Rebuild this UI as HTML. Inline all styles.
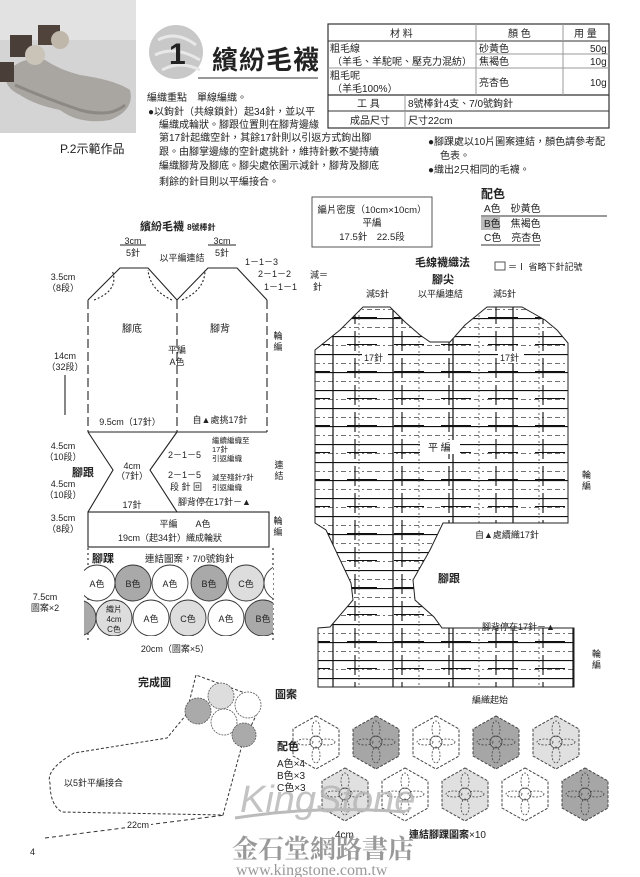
<!DOCTYPE html>
<html><head><meta charset="utf-8"><style>
html,body{margin:0;padding:0;background:#fff}
svg{display:block}
text{font-family:"Liberation Sans","Noto Sans CJK TC",sans-serif;fill:#222}
</style></head><body>
<svg width="640" height="877" viewBox="0 0 640 877" xmlns="http://www.w3.org/2000/svg">
<defs>
<pattern id="grid" width="60" height="18" patternUnits="userSpaceOnUse" x="315" y="300">
<line x1="0" y1="0.5" x2="60" y2="0.5" stroke="#111" stroke-width="1.2"/>
<line x1="0" y1="9.5" x2="60" y2="9.5" stroke="#444" stroke-width="0.8" stroke-dasharray="5 3 2 3"/>
<line x1="18" y1="0" x2="18" y2="18" stroke="#111" stroke-width="1.2"/>
<line x1="44" y1="0" x2="44" y2="18" stroke="#444" stroke-width="0.8" stroke-dasharray="2 3"/>
</pattern>
<pattern id="grid2" width="47" height="27" patternUnits="userSpaceOnUse" x="300" y="304">
<line x1="8" y1="0" x2="8" y2="20" stroke="#111" stroke-width="1.1"/>
<line x1="0" y1="13.5" x2="30" y2="13.5" stroke="#111" stroke-width="1"/>
</pattern>
<clipPath id="band"><rect x="84" y="564" width="189" height="72"/></clipPath>
</defs>

<!-- photo -->
<rect x="0" y="0" width="136" height="133" fill="#d4d4d4"/>
<rect x="0" y="0" width="136" height="40" fill="#e2e2e2"/>
<path d="M5 75 Q20 55 45 60 Q60 70 80 75 Q115 80 130 90 Q135 110 110 120 Q80 125 60 110 Q35 105 20 95 Q5 88 5 75Z" fill="#a9a6a2"/>
<path d="M15 85 Q50 100 80 110 Q110 118 125 105" fill="none" stroke="#8c8985" stroke-width="3"/>
<rect x="10" y="35" width="22" height="22" fill="#4a3f38"/>
<rect x="38" y="25" width="22" height="20" fill="#4f433b"/>
<rect x="0" y="62" width="14" height="20" fill="#4a3f38"/>
<circle cx="35" cy="55" r="10" fill="#c9c3b8"/><circle cx="60" cy="40" r="9" fill="#beb7aa"/>
<text x="60" y="153" font-size="12">P.2示範作品</text>

<!-- title -->
<circle cx="176" cy="52" r="27" fill="#c8c8c8"/>
<path d="M158 40 Q176 30 196 45 M155 55 Q175 45 200 60 M162 70 Q180 60 200 70" stroke="#e8e8e8" stroke-width="3" fill="none"/>
<text x="169" y="64" font-size="30" font-weight="bold" fill="#111">1</text>
<text x="212" y="69" font-size="26" font-weight="bold" fill="#222" letter-spacing="1">繽紛毛襪</text>
<line x1="198" y1="78" x2="318" y2="78" stroke="#999" stroke-width="2"/>

<!-- table -->
<g stroke="#333" fill="none">
<rect x="328" y="24" width="281" height="104" stroke-width="1.2"/>
<line x1="328" y1="41" x2="609" y2="41"/>
<line x1="476" y1="54" x2="609" y2="54" stroke="#999"/>
<line x1="328" y1="68" x2="609" y2="68" stroke="#999"/>
<line x1="328" y1="95" x2="609" y2="95" stroke-width="1.2"/>
<line x1="328" y1="111" x2="609" y2="111"/>
<line x1="476" y1="24" x2="476" y2="95" stroke="#999"/>
<line x1="563" y1="24" x2="563" y2="95" stroke="#999"/>
<line x1="405" y1="95" x2="405" y2="128" stroke="#999"/>
</g>
<g font-size="10">
<text x="390" y="37">材 料</text><text x="508" y="37">顏 色</text><text x="574" y="37">用 量</text>
<text x="330" y="52">粗毛線</text><text x="332" y="65">（羊毛、羊駝呢、壓克力混紡）</text>
<text x="479" y="52">砂黃色</text><text x="590" y="52">50g</text>
<text x="479" y="65">焦褐色</text><text x="590" y="65">10g</text>
<text x="330" y="79">粗毛呢</text><text x="332" y="92">（羊毛100%）</text>
<text x="479" y="86">亮杏色</text><text x="590" y="86">10g</text>
<text x="357" y="107">工 具</text><text x="408" y="107">8號棒針4支、7/0號鉤針</text>
<text x="350" y="124">成品尺寸</text><text x="408" y="124">尺寸22cm</text>
</g>

<!-- instructions -->
<g font-size="10">
<text x="147" y="101">編織重點　單線編織。</text>
<text x="148" y="115">●以鉤針（共線鎖針）起34針，並以平</text>
<text x="159" y="128">編織成輪狀。腳跟位置則在腳背邊緣</text>
<text x="159" y="141">第17針起織空針，其餘17針則以引返方式鉤出腳</text>
<text x="159" y="155">跟。由腳掌邊緣的空針處挑針，維持針數不變持續</text>
<text x="159" y="169">編織腳背及腳底。腳尖處依圖示減針，腳背及腳底</text>
<text x="159" y="185">剩餘的針目則以平編接合。</text>
<text x="428" y="145">●腳踝處以10片圖案連結，顏色請參考配</text>
<text x="440" y="159">色表。</text>
<text x="428" y="173">●織出2只相同的毛襪。</text>
</g>

<!-- gauge -->
<rect x="312" y="197" width="120" height="50" fill="none" stroke="#555"/>
<g font-size="9.5" text-anchor="middle"><text x="372" y="213">編片密度（10cm×10cm）</text><text x="372" y="226">平編</text><text x="372" y="240">17.5針　22.5段</text></g>

<!-- color table -->
<text x="481" y="198" font-size="12" font-weight="bold">配色</text>
<line x1="481" y1="216" x2="607" y2="216" stroke="#333"/>
<rect x="481" y="217" width="19" height="13" fill="#bbb"/>
<line x1="481" y1="245" x2="540" y2="245" stroke="#333"/>
<g font-size="10"><text x="484" y="212">A色　砂黃色</text><text x="484" y="227">B色　焦褐色</text><text x="484" y="241">C色　亮杏色</text></g>

<!-- LEFT DIAGRAM -->
<text x="140" y="230" font-size="11" font-weight="bold">繽紛毛襪 <tspan font-size="8">8號棒針</tspan></text>
<g font-size="9" text-anchor="middle">
<text x="133" y="244">3cm</text><text x="133" y="256">5針</text>
<text x="222" y="244">3cm</text><text x="222" y="256">5針</text>
<text x="182" y="261">以平編連結</text>
<text x="63" y="280">3.5cm</text><text x="63" y="291">（8段）</text>
<text x="65" y="359">14cm</text><text x="65" y="370">（32段）</text>
<text x="63" y="449">4.5cm</text><text x="63" y="460">（10段）</text>
<text x="63" y="487">4.5cm</text><text x="63" y="498">（10段）</text>
<text x="63" y="521">3.5cm</text><text x="63" y="532">（8段）</text>
<text x="132" y="332" font-size="10">腳底</text><text x="220" y="332" font-size="10">腳背</text>
<text x="177" y="353">平編</text><text x="177" y="365">A色</text>
<text x="278" y="339">輪</text><text x="278" y="350">編</text>
<text x="130" y="425">9.5cm（17針）</text>
<text x="220" y="423">自▲處挑17針</text>
<text x="132" y="469">4cm</text><text x="132" y="479">（7針）</text>
<text x="279" y="468">連</text><text x="279" y="479">結</text>
<text x="132" y="508">17針</text>
<text x="185" y="527">平編　　A色</text>
<text x="170" y="541">19cm（起34針）織成輪狀</text>
<text x="278" y="524">輪</text><text x="278" y="535">編</text>
<text x="45" y="600">7.5cm</text><text x="45" y="611">圖案×2</text>
<text x="175" y="652">20cm（圖案×5）</text>
</g>
<text x="72" y="476" font-size="11" font-weight="bold">腳跟</text>
<g font-size="9">
<text x="245" y="265">1－1－3</text><text x="258" y="277">2－1－2</text><text x="264" y="290">1－1－1</text>
<text x="310" y="278">減＝</text><text x="313" y="290">針</text>
<text x="168" y="458">2－1－5</text><text x="168" y="478">2－1－5</text><text x="170" y="490">段 針 回</text>
<text x="212" y="443" font-size="7.5">繼續編織至</text><text x="212" y="452" font-size="7.5">17針</text><text x="212" y="461" font-size="7.5">引返編織</text>
<text x="212" y="480" font-size="7.5">減至殘針7針</text><text x="212" y="490" font-size="7.5">引返編織</text>
<text x="178" y="505">腳背停在17針－▲</text>
</g>
<g stroke="#222" fill="none" stroke-width="1.1">
<path d="M88 300 L120 268 L148 268 L177 300 L208 268 L237 268 L267 300" />
<path d="M88 300 V432 M177 300 V432 M267 300 V432" stroke-dasharray="9 4"/>
<line x1="88" y1="432" x2="267" y2="432"/>
<path d="M88 432 L113 470 L88 512 M177 432 L150 470 L177 512"/>
<rect x="88" y="512" width="181" height="35"/>
<line x1="120" y1="245" x2="146" y2="245"/><line x1="208" y1="245" x2="236" y2="245"/>
<path d="M94 300 Q120 290 112 270 M172 300 Q150 290 148 270 M182 300 Q205 290 205 270" stroke-dasharray="2 2"/>
<path d="M88 548 V640 M273 548 V640" stroke-dasharray="2 3"/>
<line x1="65" y1="415" x2="65" y2="375"/>
</g>
<text x="92" y="562" font-size="11" font-weight="bold">腳踝</text>
<text x="145" y="562" font-size="9.5">連結圖案，7/0號鉤針</text>
<g clip-path="url(#band)" stroke="#333" stroke-width="0.9">
<ellipse cx="97" cy="583" rx="18" ry="18" fill="#fff"/>
<ellipse cx="133" cy="583" rx="18" ry="18" fill="#a9a9a9"/>
<ellipse cx="170" cy="583" rx="18" ry="18" fill="#fff"/>
<ellipse cx="209" cy="583" rx="18" ry="18" fill="#a9a9a9"/>
<ellipse cx="246" cy="583" rx="18" ry="18" fill="#ddd"/>
<ellipse cx="282" cy="583" rx="18" ry="18" fill="#fff"/>
<ellipse cx="78" cy="618" rx="18" ry="18" fill="#a9a9a9"/>
<ellipse cx="114" cy="618" rx="18" ry="18" fill="#ddd"/>
<ellipse cx="151" cy="618" rx="18" ry="18" fill="#fff"/>
<ellipse cx="188" cy="618" rx="18" ry="18" fill="#ddd"/>
<ellipse cx="226" cy="618" rx="18" ry="18" fill="#fff"/>
<ellipse cx="263" cy="618" rx="18" ry="18" fill="#a9a9a9"/>
</g>
<g font-size="9" text-anchor="middle">
<text x="97" y="587">A色</text><text x="133" y="587">B色</text><text x="170" y="587">A色</text><text x="209" y="587">B色</text><text x="246" y="587">C色</text>
<text x="114" y="612" font-size="8">織片</text><text x="114" y="622" font-size="8">4cm</text><text x="114" y="632" font-size="8">C色</text>
<text x="151" y="622">A色</text><text x="188" y="622">C色</text><text x="226" y="622">A色</text><text x="263" y="622">B色</text>
</g>

<!-- RIGHT CHART -->
<text x="415" y="266" font-size="11" font-weight="bold">毛線襪織法</text>
<rect x="495" y="262" width="10" height="8" fill="none" stroke="#555"/>
<text x="508" y="270" font-size="9">＝Ⅰ 省略下針記號</text>
<text x="432" y="283" font-size="11" font-weight="bold">腳尖</text>
<g font-size="9"><text x="366" y="297">減5針</text><text x="418" y="297">以平編連結</text><text x="493" y="297">減5針</text></g>
<path d="M315 350 L340 330 L363 307 L390 307 L405 322 L420 335 L430 342 L450 342 L465 325 L487 307 L522 307 L545 320 L557 330 L568 343 L568 523 L443 523 L430 550 L413 580 L415 600 L434 617 L442 628 L574 628 L574 687 L318 687 L318 628 L330 627 L353 600 L351 583 L326 530 L315 523 Z" fill="url(#grid)" stroke="#222" stroke-width="1"/>
<path d="M315 350 L340 330 L363 307 L390 307 L405 322 L420 335 L430 342 L450 342 L465 325 L487 307 L522 307 L545 320 L557 330 L568 343 L568 523 L443 523 L430 550 L413 580 L415 600 L434 617 L442 628 L574 628 L574 687 L318 687 L318 628 L330 627 L353 600 L351 583 L326 530 L315 523 Z" fill="url(#grid2)"/>
<rect x="362" y="351" width="26" height="12" fill="#fff"/><text x="364" y="361" font-size="9">17針</text>
<rect x="498" y="351" width="26" height="12" fill="#fff"/><text x="500" y="361" font-size="9">17針</text>
<rect x="420" y="440" width="40" height="14" fill="#fff"/><text x="428" y="451" font-size="10">平 編</text>
<g font-size="9"><text x="582" y="478">輪</text><text x="582" y="489">編</text>
<text x="475" y="538">自▲處續織17針</text>
<text x="438" y="582" font-size="11" font-weight="bold">腳跟</text>
<text x="482" y="630">腳背停在17針－▲</text>
<text x="592" y="657">輪</text><text x="592" y="668">編</text>
<text x="472" y="703">編織起始</text></g>

<!-- finished drawing -->
<text x="138" y="686" font-size="11" font-weight="bold">完成圖</text>
<path d="M196 675 L186 715 L167 738 L74 753 Q45 770 50 783 Q50 805 62 812 L223 815 L242 745 L260 707 L256 697 Z" fill="none" stroke="#333" stroke-dasharray="3 2"/>
<g stroke="#555" stroke-width="0.8" stroke-dasharray="2 1">
<circle cx="221" cy="696" r="13" fill="#ddd"/><circle cx="198" cy="711" r="13" fill="#aaa"/>
<circle cx="224" cy="722" r="13" fill="#fff"/><circle cx="248" cy="705" r="13" fill="#fff"/>
<circle cx="244" cy="735" r="12" fill="#aaa"/>
</g>
<text x="64" y="786" font-size="9">以5針平編接合</text>
<line x1="45" y1="838" x2="225" y2="815" stroke="#333" stroke-dasharray="4 3"/>
<rect x="125" y="818" width="26" height="11" fill="#fff"/><text x="127" y="828" font-size="9">22cm</text>
<text x="30" y="855" font-size="9">4</text>

<!-- motifs -->
<text x="275" y="698" font-size="11" font-weight="bold">圖案</text>
<g stroke="#444" stroke-width="1" stroke-dasharray="3 1.5">
<polygon points="316,716 339,729 339,756 316,769 293,756 293,729" fill="#fff"/>
<polygon points="376,716 399,729 399,756 376,769 353,756 353,729" fill="#a6a6a6"/>
<polygon points="436,716 459,729 459,756 436,769 413,756 413,729" fill="#fff"/>
<polygon points="496,716 519,729 519,756 496,769 473,756 473,729" fill="#a6a6a6"/>
<polygon points="556,716 579,729 579,756 556,769 533,756 533,729" fill="#e0e0e0"/>
<polygon points="345,768 368,781 368,808 345,821 322,808 322,781" fill="#e0e0e0"/>
<polygon points="405,768 428,781 428,808 405,821 382,808 382,781" fill="#fff"/>
<polygon points="465,768 488,781 488,808 465,821 442,808 442,781" fill="#e0e0e0"/>
<polygon points="525,768 548,781 548,808 525,821 502,808 502,781" fill="#fff"/>
<polygon points="585,768 608,781 608,808 585,821 562,808 562,781" fill="#a6a6a6"/>
</g>
<g stroke="#444" stroke-width="0.8" fill="none" stroke-dasharray="2 1.5">
<g id="pet"><ellipse cx="316" cy="729" rx="4" ry="8"/><ellipse cx="316" cy="755" rx="4" ry="8"/><ellipse cx="305" cy="742" rx="8" ry="3"/><ellipse cx="327" cy="742" rx="8" ry="3"/></g>
<use href="#pet" x="60"/><use href="#pet" x="120"/><use href="#pet" x="180"/><use href="#pet" x="240"/>
<use href="#pet" x="29" y="52"/><use href="#pet" x="89" y="52"/><use href="#pet" x="149" y="52"/><use href="#pet" x="209" y="52"/><use href="#pet" x="269" y="52"/>
</g>
<g stroke="#444" stroke-width="0.8" fill="none">
<circle cx="316" cy="742" r="6"/><circle cx="376" cy="742" r="6"/><circle cx="436" cy="742" r="6"/><circle cx="496" cy="742" r="6"/><circle cx="556" cy="742" r="6"/>
<circle cx="345" cy="794" r="6"/><circle cx="405" cy="794" r="6"/><circle cx="465" cy="794" r="6"/><circle cx="525" cy="794" r="6"/><circle cx="585" cy="794" r="6"/>
</g>
<g font-size="10"><text x="277" y="750" font-weight="bold" font-size="11">配色</text>
<text x="277" y="767">A色×4</text><text x="277" y="779">B色×3</text><text x="277" y="791">C色×3</text>
<text x="335" y="838">4cm</text><text x="409" y="838" font-weight="bold">連結腳踝圖案<tspan font-weight="normal">×10</tspan></text></g>

<!-- watermark -->
<text x="240" y="812" font-size="38" font-style="italic" style="fill:#b0b0b0;opacity:0.75">KingStone</text>
<path d="M235 818 Q320 805 405 812" stroke="#bbb" stroke-width="3" fill="none"/>
<text x="232" y="858" font-size="26" font-weight="bold" style="fill:#999;font-family:'Liberation Serif','Noto Serif CJK SC',serif">金石堂網路書店</text>
<text x="236" y="875" font-size="16" style="fill:#999;font-family:'Liberation Serif',serif">www.kingstone.com.tw</text>
</svg>
</body></html>
